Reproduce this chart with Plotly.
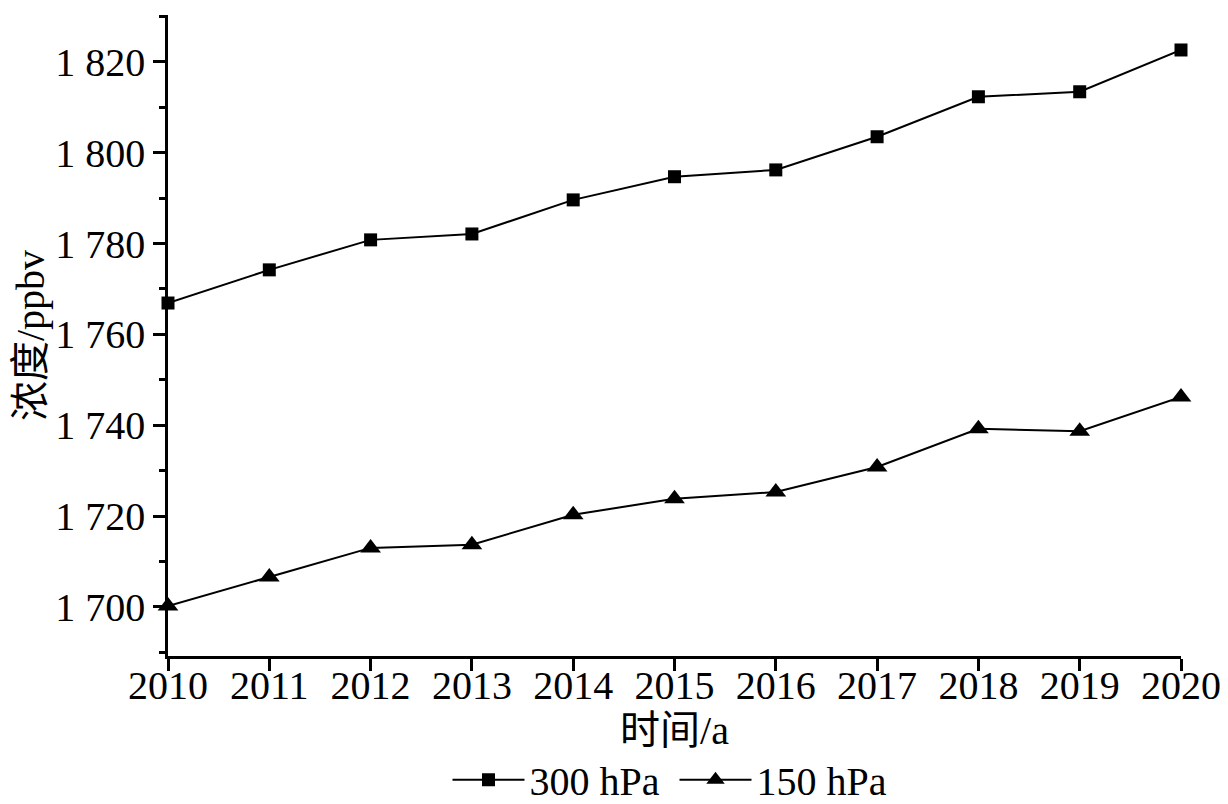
import plotly.graph_objects as go

years = [2010, 2011, 2012, 2013, 2014, 2015, 2016, 2017, 2018, 2019, 2020]
s300 = [1766.9, 1774.2, 1780.8, 1782.1, 1789.6, 1794.7, 1796.2, 1803.5, 1812.3, 1813.4, 1822.6]
s150 = [1700.2, 1706.6, 1713.0, 1713.7, 1720.3, 1723.8, 1725.3, 1730.8, 1739.2, 1738.7, 1746.2]
ytick_vals = [1700, 1720, 1740, 1760, 1780, 1800, 1820]
ytick_text = ["1 700", "1 720", "1 740", "1 760", "1 780", "1 800", "1 820"]
xtick_vals = years
xtick_text = [str(y) for y in years]

FONT = "Liberation Serif, Noto Sans CJK SC, serif"

fig = go.Figure()
fig.add_trace(go.Scatter(
    x=years, y=s300, name="300 hPa", mode="lines+markers",
    line=dict(color="black", width=2),
    marker=dict(symbol="square", size=13, color="black"),
    cliponaxis=False,
))
fig.add_trace(go.Scatter(
    x=years, y=s150, name="150 hPa", mode="lines+markers",
    line=dict(color="black", width=2),
    marker=dict(symbol="triangle-up", size=18, color="black"),
    cliponaxis=False,
))

fig.update_layout(
    width=1228, height=804,
    paper_bgcolor="white", plot_bgcolor="white",
    margin=dict(l=160, r=55, t=7, b=156, autoexpand=False),
    font=dict(family=FONT, size=40, color="black"),
    showlegend=True,
    legend=dict(orientation="h", x=0.5, xanchor="center", y=-0.193, yanchor="middle",
                font=dict(size=40, family=FONT), itemwidth=72,
                entrywidth=140, entrywidthmode="pixels",
                tracegroupgap=0, bgcolor="rgba(0,0,0,0)"),
)
fig.update_xaxes(
    range=[2010, 2020], tickvals=xtick_vals, ticktext=xtick_text,
    showline=True, linecolor="black", linewidth=2.5, mirror=False,
    ticks="outside", ticklen=12, tickwidth=2.5, tickcolor="black",
    showgrid=False, zeroline=False,
    tickfont=dict(size=40, family=FONT), ticklabelstandoff=-20,
    title=dict(text="时间/a", font=dict(size=40, family=FONT), standoff=4),
)
fig.update_yaxes(
    range=[1689.2, 1830.3], tickvals=ytick_vals, ticktext=ytick_text,
    showline=True, linecolor="black", linewidth=2.5, mirror=False,
    ticks="outside", ticklen=12, tickwidth=2.5, tickcolor="black",
    minor=dict(dtick=10, tick0=1690, ticks="outside", ticklen=6, tickwidth=2.5, tickcolor="black", showgrid=False),
    showgrid=False, zeroline=False,
    tickfont=dict(size=40, family=FONT),
    title=dict(text="浓度/ppbv", font=dict(size=40, family=FONT), standoff=4),
)

fig.write_html("out.html")
